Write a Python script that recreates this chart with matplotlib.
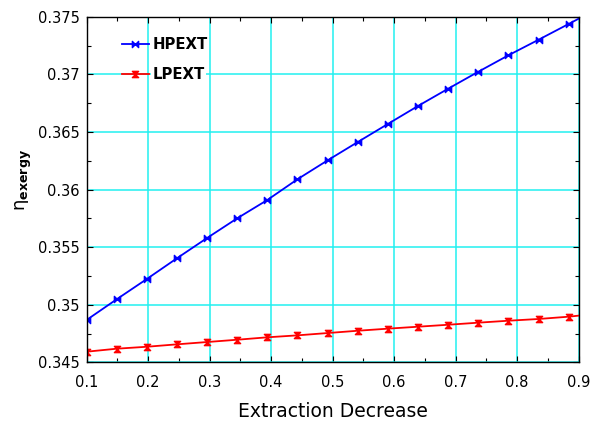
import matplotlib
matplotlib.use("Agg")
import matplotlib.pyplot as plt
from matplotlib.path import Path
from matplotlib.ticker import MultipleLocator

plt.rcParams['font.family'] = ['DejaVu Sans']
plt.rcParams['mathtext.fontset'] = 'dejavusans'

# Extraction decrease fraction (last value is the line end, no marker)
extraction = [0.100, 0.149, 0.198, 0.247, 0.296, 0.345, 0.394, 0.443, 0.492,
              0.541, 0.590, 0.639, 0.688, 0.737, 0.786, 0.835, 0.884, 0.900]
hpext = [0.34867, 0.35047, 0.35223, 0.35403, 0.35579, 0.35750, 0.35909,
         0.36089, 0.36253, 0.36412, 0.36569, 0.36725, 0.36875, 0.37022,
         0.37165, 0.37300, 0.37437, 0.37482]
lpext = [0.34592, 0.34618, 0.34635, 0.34656, 0.34676, 0.34696, 0.34717,
         0.34734, 0.34754, 0.34774, 0.34792, 0.34809, 0.34826, 0.34844,
         0.34861, 0.34876, 0.34896, 0.34905]
series_names = ["HPEXT", "LPEXT"]
x_ticks = [0.1, 0.2, 0.3, 0.4, 0.5, 0.6, 0.7, 0.8, 0.9]
y_ticks = [0.345, 0.35, 0.355, 0.36, 0.365, 0.37, 0.375]
y_tick_labels = ["0.345", "0.35", "0.355", "0.36", "0.365", "0.37", "0.375"]

# bow-tie markers: horizontal for HPEXT, hourglass for LPEXT
bowtie = Path([(-1, -1), (-1, 1), (1, -1), (1, 1), (-1, -1)],
              [Path.MOVETO, Path.LINETO, Path.LINETO, Path.LINETO, Path.CLOSEPOLY])
hourglass = Path([(-1, -1), (1, -1), (-1, 1), (1, 1), (-1, -1)],
                 [Path.MOVETO, Path.LINETO, Path.LINETO, Path.LINETO, Path.CLOSEPOLY])

fig = plt.figure(figsize=(5.98, 4.24), dpi=100)
ax = fig.add_axes([0.1447, 0.1455, 0.8227, 0.8151])

n_mark = len(extraction) - 1
ax.plot(extraction, hpext, color='#0000FF', lw=1.3, marker=bowtie, ms=4.5,
        markevery=slice(0, n_mark), label=series_names[0])
ax.plot(extraction, lpext, color='#FF0000', lw=1.3, marker=hourglass, ms=4.5,
        markevery=slice(0, n_mark), label=series_names[1])

ax.set_xlim(0.1, 0.9)
ax.set_ylim(0.345, 0.375)
ax.set_xticks(x_ticks)
ax.set_xticklabels([f"{t:g}" for t in x_ticks])
ax.set_yticks(y_ticks)
ax.set_yticklabels(y_tick_labels)
ax.xaxis.set_minor_locator(MultipleLocator(0.05))
ax.yaxis.set_minor_locator(MultipleLocator(0.0025))
ax.tick_params(which='both', direction='in', top=True, right=True,
               labelsize=10.5, colors='black')
ax.tick_params(which='major', length=4, width=0.8)
ax.tick_params(axis='x', which='major', pad=9)
ax.tick_params(axis='y', which='major', pad=5)
ax.tick_params(which='minor', length=3, width=0.8)
ax.grid(True, which='major', color='#22F0F0', lw=1.1)
ax.set_axisbelow(True)
for s in ax.spines.values():
    s.set_linewidth(1.0)
    s.set_color('black')

ax.set_xlabel("Extraction Decrease", fontsize=13.5, labelpad=9)
ax.set_ylabel(r"η$_{\mathbf{exergy}}$", fontsize=13)
ax.yaxis.set_label_coords(-0.107, 0.527)

leg = ax.legend(loc='upper left', bbox_to_anchor=(0.072, 0.94), frameon=False,
                prop={'weight': 'bold', 'size': 10.7}, handlelength=1.8,
                handletextpad=0.25, labelspacing=1.0, borderpad=0,
                borderaxespad=0)
for t in leg.get_texts():
    t.set_bbox(dict(facecolor='white', edgecolor='none', pad=1))

fig.savefig("out.png", dpi=100)
